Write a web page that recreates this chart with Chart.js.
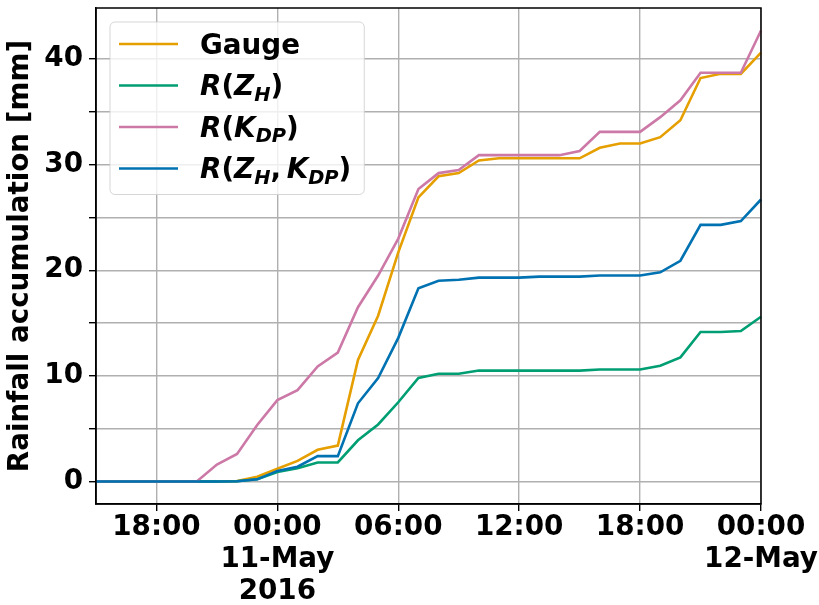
<!DOCTYPE html>
<html><head><meta charset="utf-8">
<script src="https://cdn.jsdelivr.net/npm/chart.js@4.4.1/dist/chart.umd.min.js"></script>
<style>html,body{margin:0;padding:0;background:#fff;}#wrap{width:819px;height:605px;position:relative;}</style>
</head><body><div id="wrap"><canvas id="c" width="819" height="605"></canvas></div>
<script>
// ---------- data ----------
const times = [
  '10-May 15:00','10-May 16:00','10-May 17:00','10-May 18:00','10-May 19:00','10-May 20:00',
  '10-May 21:00','10-May 22:00','10-May 23:00',
  '11-May 00:00','11-May 01:00','11-May 02:00','11-May 03:00','11-May 04:00','11-May 05:00',
  '11-May 06:00','11-May 07:00','11-May 08:00','11-May 09:00','11-May 10:00','11-May 11:00',
  '11-May 12:00','11-May 13:00','11-May 14:00','11-May 15:00','11-May 16:00','11-May 17:00',
  '11-May 18:00','11-May 19:00','11-May 20:00','11-May 21:00','11-May 22:00','11-May 23:00',
  '12-May 00:00'
];
const gauge = [0,0,0,0,0,0,0,0.05,0.45,1.2,1.95,3.0,3.4,11.5,15.7,21.7,26.9,28.9,29.2,30.4,30.6,30.6,30.6,30.6,30.6,31.6,32.0,32.0,32.6,34.2,38.2,38.6,38.6,40.6];
const rZH = [0,0,0,0,0,0,0,0.02,0.2,0.9,1.25,1.8,1.8,3.9,5.4,7.5,9.8,10.2,10.2,10.5,10.5,10.5,10.5,10.5,10.5,10.6,10.6,10.6,10.95,11.75,14.15,14.15,14.25,15.6];
const rKDP = [0,0,0,0,0,0,1.6,2.6,5.35,7.7,8.65,10.9,12.2,16.5,19.5,23.0,27.7,29.2,29.5,30.9,30.9,30.9,30.9,30.9,31.3,33.1,33.1,33.1,34.5,36.1,38.7,38.7,38.7,42.7];
const rZHKDP = [0,0,0,0,0,0,0,0.02,0.2,1.0,1.4,2.4,2.4,7.4,9.8,13.6,18.3,19.0,19.1,19.3,19.3,19.3,19.4,19.4,19.4,19.5,19.5,19.5,19.8,20.9,24.3,24.3,24.65,26.7];
const seriesNames = ['Gauge', '$R(Z_H)$', '$R(K_DP)$', '$R(Z_H, K_DP)$'];
const seriesColors = ['#E69F00', '#009E73', '#CC79A7', '#0072B2'];
const xTickTimes = ['10-May 18:00','11-May 00:00','11-May 06:00','11-May 12:00','11-May 18:00','12-May 00:00'];
const xTickText = [['18:00'], ['00:00','11-May','2016'], ['06:00'], ['12:00'], ['18:00'], ['00:00','12-May']];
const yTickValues = [0,5,10,15,20,25,30,35,40];
const yTickText = ['0','','10','','20','','30','','40'];
const yTitle = 'Rainfall accumulation [mm]';

// ---------- rendering ----------
const FS = 27.8;
const FAMILY = '"DejaVu Sans", "Liberation Sans", sans-serif';

function parseMath(s) {
  if (s[0] !== '$') return [{t: s, it: false, sub: false}];
  s = s.slice(1, -1);
  const out = [];
  for (let i = 0; i < s.length; i++) {
    const ch = s[i];
    if (ch === '_') {
      let j = i + 1, g = '';
      while (j < s.length && /[A-Za-z]/.test(s[j])) { g += s[j]; j++; }
      out.push({t: g, it: true, sub: true});
      i = j - 1;
    } else if (/[A-Za-z]/.test(ch)) {
      out.push({t: ch, it: true, sub: false});
    } else if (ch === ' ') {
      out.push({t: '\u2009', it: false, sub: false});
    } else {
      out.push({t: ch, it: false, sub: false});
    }
  }
  return out;
}
function segFont(seg) {
  const size = seg.sub ? FS * 0.7 : FS;
  return (seg.it ? 'italic ' : '') + 'bold ' + size + 'px ' + FAMILY;
}

const framePlugin = {
  id: 'frame',
  afterDraw(chart) {
    const ctx = chart.ctx, a = chart.chartArea;
    ctx.save();
    ctx.strokeStyle = '#000';
    ctx.lineWidth = 1.5;
    ctx.strokeRect(a.left, a.top, a.right - a.left, a.bottom - a.top);
    ctx.restore();
  }
};

const legendPlugin = {
  id: 'mplLegend',
  afterDraw(chart) {
    const ctx = chart.ctx, a = chart.chartArea;
    const boxX = a.left + 14, boxY = a.top + 14;
    const rowH = 41.5, firstRow = 22;
    const lineX0 = boxX + 9, lineX1 = boxX + 68, textX = boxX + 90;
    ctx.save();
    const rows = chart.data.datasets.map((ds, i) => parseMath(seriesNames[i]));
    let maxW = 0;
    rows.forEach(segs => {
      let w = 0;
      segs.forEach(sg => { ctx.font = segFont(sg); w += ctx.measureText(sg.t).width; });
      maxW = Math.max(maxW, w);
    });
    const boxW = (textX - boxX) + maxW + 13;
    const boxH = firstRow + rowH * (rows.length - 1) + 26;
    ctx.beginPath();
    ctx.roundRect(boxX, boxY, boxW, boxH, 5);
    ctx.fillStyle = 'rgba(255,255,255,0.8)';
    ctx.fill();
    ctx.strokeStyle = 'rgba(204,204,204,0.8)';
    ctx.lineWidth = 1;
    ctx.stroke();
    rows.forEach((segs, i) => {
      const cy = boxY + firstRow + i * rowH;
      const ds = chart.data.datasets[i];
      ctx.strokeStyle = ds.borderColor;
      ctx.lineWidth = 2.5;
      ctx.beginPath();
      ctx.moveTo(lineX0, cy);
      ctx.lineTo(lineX1, cy);
      ctx.stroke();
      let x = textX;
      const base = cy + 9.5;
      ctx.fillStyle = '#000';
      ctx.textBaseline = 'alphabetic';
      ctx.textAlign = 'left';
      segs.forEach(sg => {
        ctx.font = segFont(sg);
        ctx.fillText(sg.t, x, sg.sub ? base + FS * 0.2 : base);
        x += ctx.measureText(sg.t).width;
      });
    });
    ctx.restore();
  }
};

const seriesData = [gauge, rZH, rKDP, rZHKDP];
const datasets = seriesData.map((d, i) => ({
  label: seriesNames[i].replace(/\$/g, ''),
  data: d,
  borderColor: seriesColors[i],
  backgroundColor: seriesColors[i],
  borderWidth: 2.6,
  pointRadius: 0,
  tension: 0,
  fill: false,
  order: seriesData.length - 1 - i
}));

const isMajorX = idx => xTickTimes.indexOf(times[idx]) >= 0;

new Chart(document.getElementById('c'), {
  type: 'line',
  data: {labels: times, datasets},
  plugins: [framePlugin, legendPlugin],
  options: {
    responsive: false,
    animation: false,
    devicePixelRatio: 1,
    layout: {padding: {top: 8, right: 58, left: 0, bottom: 0}},
    plugins: {legend: {display: false}, tooltip: {enabled: false}},
    scales: {
      x: {
        type: 'category',
        offset: false,
        afterFit(s) { s.height = 101; s.paddingLeft = 0; s.paddingRight = 0; },
        grid: {
          color: ctx => isMajorX(ctx.index) ? '#b0b0b0' : 'rgba(0,0,0,0)',
          tickColor: ctx => isMajorX(ctx.index) ? '#000' : 'rgba(0,0,0,0)',
          lineWidth: 1.4,
          tickLength: 7,
          drawTicks: true
        },
        border: {display: true, color: '#000', width: 1.5},
        ticks: {
          autoSkip: false,
          maxRotation: 0,
          minRotation: 0,
          padding: 1,
          color: '#000',
          font: {family: FAMILY, size: FS, weight: 'bold', lineHeight: 1.15},
          callback: (v, idx) => {
            const k = xTickTimes.indexOf(times[idx]);
            return k >= 0 ? xTickText[k] : '';
          }
        }
      },
      y: {
        type: 'linear',
        min: -2.135,
        max: 44.835,
        afterFit(s) { s.width = 96; s.paddingTop = 0; s.paddingBottom = 0; },
        afterBuildTicks(s) { s.ticks = yTickValues.map(v => ({value: v})); },
        grid: {color: '#b0b0b0', lineWidth: 1.4, tickColor: '#000', tickLength: 7},
        border: {display: true, color: '#000', width: 1.5},
        ticks: {
          padding: 6,
          color: '#000',
          font: {family: FAMILY, size: FS, weight: 'bold'},
          callback: v => { const k = yTickValues.indexOf(v); return k >= 0 ? yTickText[k] : ''; }
        },
        title: {
          display: true,
          text: yTitle,
          color: '#000',
          font: {family: FAMILY, size: FS, weight: 'bold', lineHeight: 1.2},
          padding: {top: 4, bottom: 0}
        }
      }
    }
  }
});
</script>
</body></html>
